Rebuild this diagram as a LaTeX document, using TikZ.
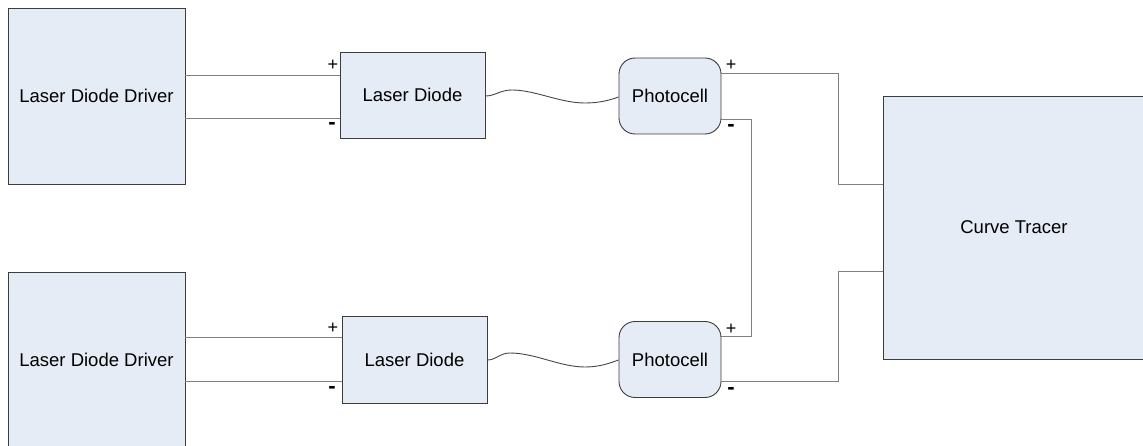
\documentclass[tikz,border=0pt]{standalone}
\usepackage{fontspec}
\setmainfont{Liberation Sans}
\begin{document}
\begin{tikzpicture}[x=1pt,y=-1pt,
  blk/.style={draw=boxline,fill=boxfill,line width=0.9pt,inner sep=0pt,
    font=\fontsize{18.5}{22}\selectfont},
  cell/.style={blk,rounded corners=16pt,minimum width=102pt,minimum height=76pt},
  wire/.style={draw=wireline,line width=0.9pt},
  fiber/.style={draw=fiberline,line width=0.9pt},
  pol/.style={inner sep=0pt,font=\fontsize{18}{20}\selectfont},
  neg/.style={inner sep=0pt,font=\fontsize{22}{24}\selectfont\bfseries}]
\definecolor{boxfill}{RGB}{230,236,246}
\definecolor{boxline}{RGB}{60,60,60}
\definecolor{wireline}{RGB}{128,128,128}
\definecolor{fiberline}{RGB}{70,70,70}
\useasboundingbox (0,0) rectangle (1143,446);
\clip (0,0) rectangle (1143,446);

% drivers
\node[blk,minimum width=177pt,minimum height=176pt] (ldd1) at (96.5,96) {Laser Diode Driver};
\node[blk,minimum width=177pt,minimum height=176pt] (ldd2) at (96.5,360) {Laser Diode Driver};

% laser diodes
\node[blk,minimum width=145pt,minimum height=86pt] (ld1) at (412.5,95) {Laser Diode};
\node[blk,minimum width=145pt,minimum height=87pt] (ld2) at (414.5,359.5) {Laser Diode};

% photocells
\node[cell] (pc1) at (670,96) {Photocell};
\node[cell] (pc2) at (670,359.5) {Photocell};

% curve tracer
\node[blk,minimum width=262pt,minimum height=263pt] (ct) at (1014,227.5) {Curve Tracer};

% driver to diode leads
\draw[wire] (ldd1.east |- 0,75) -- (ld1.west |- 0,75);
\draw[wire] (ldd1.east |- 0,118) -- (ld1.west |- 0,118);
\draw[wire] (ldd2.east |- 0,337) -- (ld2.west |- 0,337);
\draw[wire] (ldd2.east |- 0,381) -- (ld2.west |- 0,381);

% optical paths
\draw[fiber] (ld1.east |- 0,96) .. controls (495,96) and (500,90) .. (512,90)
  .. controls (535,90) and (560,103) .. (585,103)
  .. controls (600,103) and (610,100) .. (pc1.west |- 0,97);
\draw[fiber] (ld2.east |- 0,360) .. controls (496,360) and (500,353) .. (510,353)
  .. controls (535,353) and (560,367) .. (585,367)
  .. controls (600,367) and (610,363) .. (pc2.west |- 0,360);

% photocell leads to curve tracer
\draw[wire] (pc1.east |- 0,73) -- (838,73) -- (838,184) -- (ct.west |- 0,184);
\draw[wire] (pc1.east |- 0,119) -- (751,119) -- (751,336) -- (pc2.east |- 0,336);
\draw[wire] (pc2.east |- 0,381) -- (838,381) -- (838,271) -- (ct.west |- 0,271);

% polarity marks
\node[pol] (p1) at (333,65) {+};
\node[neg] (n1) at (332,126) {-};
\node[pol] (p2) at (333,328) {+};
\node[neg] (n2) at (332,390) {-};
\node[pol] (p3) at (731,65) {+};
\node[neg] (n3) at (731,128) {-};
\node[pol] (p4) at (731,329) {+};
\node[neg] (n4) at (731,391) {-};
\end{tikzpicture}
\end{document}
